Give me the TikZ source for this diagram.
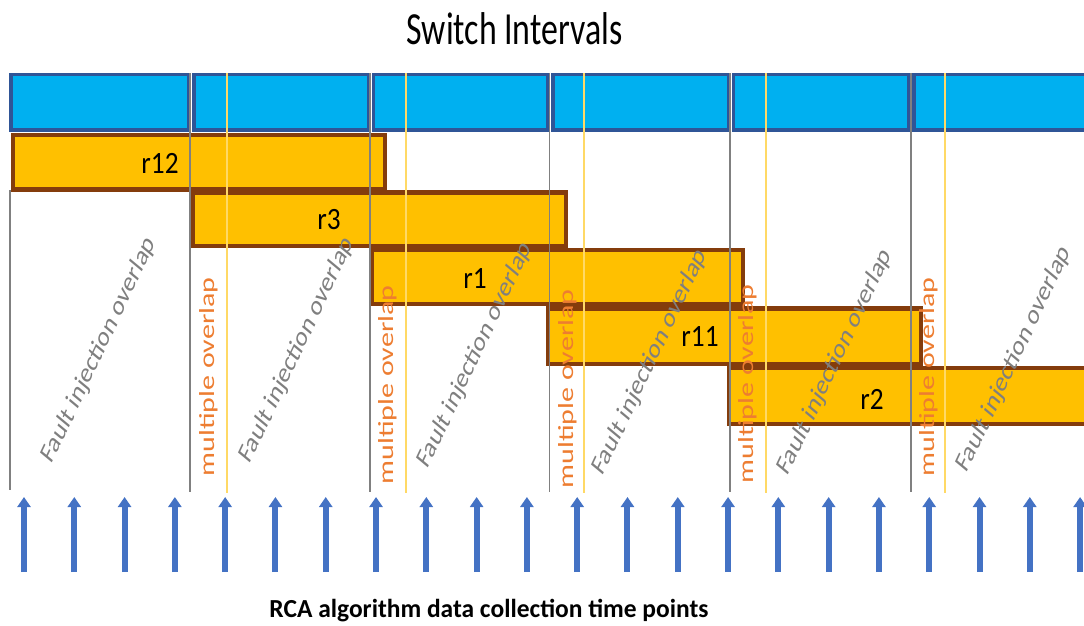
\documentclass[tikz,border=0pt]{standalone}
\usepackage{fontspec}
\setmainfont{Carlito}
\usetikzlibrary{arrows.meta}
\definecolor{barfill}{HTML}{00B0F0}
\definecolor{barline}{HTML}{2F5597}
\definecolor{boxfill}{HTML}{FFC000}
\definecolor{boxline}{HTML}{843C0C}
\definecolor{sepgray}{HTML}{808080}
\definecolor{sepyellow}{HTML}{FFD966}
\definecolor{multicol}{HTML}{ED7D31}
\definecolor{faultcol}{HTML}{7F7F7F}
\definecolor{arrowblue}{HTML}{4472C4}

\begin{document}
\begin{tikzpicture}[x=1pt,y=-1pt,
  cell/.style={fill=barfill, draw=barline, line width=3.6pt},
  run/.style={fill=boxfill, draw=boxline, line width=4.2pt},
  switchline/.style={draw=sepgray, line width=1.8pt},
  overlapline/.style={draw=sepyellow, line width=1.5pt},
  runlabel/.style={font=\fontsize{31}{31}\selectfont, xscale=0.88, inner sep=0pt},
  multi/.style={text=multicol, font=\fontsize{30}{30}\selectfont, xscale=0.72, rotate=90, inner sep=0pt},
  fault/.style={text=faultcol, font=\fontsize{29}{29}\selectfont, xscale=0.75, rotate=58, inner sep=0pt},
  tick/.style={draw=arrowblue, line width=6pt, -{Triangle[width=13pt,length=10pt]}},
]
\useasboundingbox (0,0) rectangle (1084,625);
\clip (0,0) rectangle (1084,625);

% title
\node[font=\fontsize{46}{46}\selectfont, xscale=0.736, anchor=base, inner sep=0pt] (title) at (514.5,44) {Switch Intervals};

% switch interval bar
\foreach \l/\r [count=\i] in {11/188.5, 194/369, 373.5/548, 553/728.5, 733.5/909, 914/1100}
  \draw[cell] (\l,74.5) rectangle (\r,129.8);

% runs
\draw[run] (13,135) rectangle (385,189.5);
\draw[run] (192.5,192.5) rectangle (566,246);
\draw[run] (371.5,250) rectangle (743,304);
\draw[run] (548,308.5) rectangle (921,364);
\draw[run] (729,368) rectangle (1100,424);

% switch boundaries and overlap limits
\coordinate (g0t) at (10,190);  \coordinate (g0b) at (10,490);
\draw[switchline] (g0t) -- (g0b);
\foreach \x [count=\i] in {190,370,549.5,730,911} {
  \coordinate (g\i t) at (\x,73);
  \coordinate (g\i b) at (\x,492);
  \draw[switchline] (g\i t) -- (g\i b);
}
\foreach \x [count=\i] in {227,406,584,766,945} {
  \coordinate (y\i t) at (\x,73);
  \coordinate (y\i b) at (\x,493);
  \draw[overlapline] (y\i t) -- (y\i b);
}

% run labels
\node[runlabel] (r12) at (160,163) {r12};
\node[runlabel] (r3)  at (329,220) {r3};
\node[runlabel] (r1)  at (475,279) {r1};
\node[runlabel] (r11) at (700,337) {r11};
\node[runlabel] (r2)  at (872,399) {r2};

% overlap annotations
\foreach \x/\y [count=\i] in {99/350, 297/350, 475/355, 650/362, 835/362, 1014/359}
  \node[fault] (fault\i) at (\x,\y) {Fault injection overlap};
\foreach \x/\y [count=\i] in {209/377, 388/385, 568/389, 748/384, 929/377}
  \node[multi] (multi\i) at (\x,\y) {multiple overlap};

% data collection time points
\foreach \k in {0,...,21} {
  \coordinate (tb\k) at (24+50.29*\k,572);
  \coordinate (tt\k) at (24+50.29*\k,497);
  \draw[tick] (tb\k) -- (tt\k);
}
\node[font=\bfseries\fontsize{26}{26}\selectfont, xscale=0.98, anchor=base, inner sep=0pt] (caption) at (489,617) {RCA algorithm data collection time points};
\end{tikzpicture}
\end{document}
